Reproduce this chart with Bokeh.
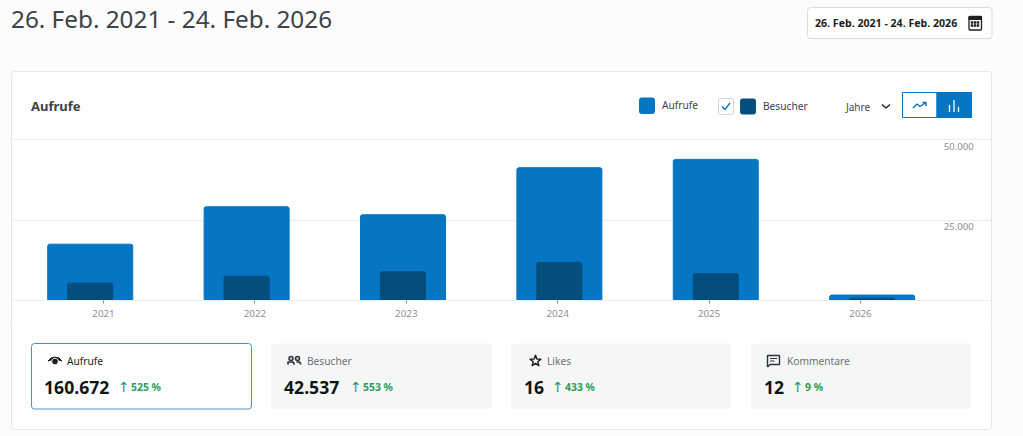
from bokeh.core.properties import value
from bokeh.embed import file_html
from bokeh.layouts import column, row
from bokeh.models import ColumnDataSource, FixedTicker, Grid, LabelSet, LinearAxis, Range1d, Spacer
from bokeh.plotting import figure
from bokeh.resources import INLINE

# chart values
years = [2021, 2022, 2023, 2024, 2025, 2026]
aufrufe = [17600, 29300, 26800, 41500, 44100, 1700]
besucher = [5400, 7600, 9000, 11900, 8400, 700]
y_ticks = [0, 25000, 50000]
y_tick_labels = ["0", "25.000", "50.000"]

date_range = "26. Feb. 2021 - 24. Feb. 2026"
chart_title = "Aufrufe"
metric_names = ["Aufrufe", "Besucher", "Likes", "Kommentare"]
metric_values = ["160.672", "42.537", "16", "12"]
metric_changes = ["525 %", "553 %", "433 %", "9 %"]

BLUE = "#0675c4"
DARK = "#044e7e"
PAGE = "#fcfcfc"
LINE = "#e6e6e6"
GREY = "#8c8f94"
FONT = "Noto Sans"


def panel(height, top):
    # decoration panel, coordinates are page pixels
    f = figure(width=1023, height=height, x_range=(0.5, 1023.5), y_range=(top + height + 0.5, top + 0.5),
               output_backend="svg", toolbar_location=None, x_axis_location=None, y_axis_location=None,
               min_border=0, outline_line_color=None, background_fill_color=PAGE, border_fill_color=PAGE)
    f.xgrid.visible = False
    f.ygrid.visible = False
    return f


def label(f, x, y, text, size, color="#1e1e1e", style="normal", align="left", font=FONT):
    f.text([x], [y - 0.5], text=[text], text_font=value(font), text_font_size=f"{size}px", text_color=color,
           text_font_style=style, text_align=align, text_baseline="middle")


# header
head = panel(140, 0)
label(head, 11, 19, date_range, 24.3, "#3c434a")
head.quad(left=[807.5], right=[992], top=[7.5], bottom=[38.5], fill_color="white", line_color="#dcdcde", border_radius=3)
label(head, 815, 23, date_range, 10.6, "#1e1e1e", "bold")
head.quad(left=[969], right=[981.5], top=[16.5], bottom=[30], fill_color="white", line_color="#1e1e1e", line_width=1.3, border_radius=1)
head.quad(left=[969], right=[981.5], top=[16.5], bottom=[19.5], fill_color="#1e1e1e", line_color="#1e1e1e")
head.scatter([972, 975, 978, 972, 975, 978], [22.5, 22.5, 22.5, 25.5, 25.5, 25.5], marker="square", size=1.6, color="#1e1e1e")

head.quad(left=[11.5], right=[991.5], top=[71.5], bottom=[160], fill_color="white", line_color=LINE, border_radius=3)
head.segment([12], [139.5], [991], [139.5], line_color="#eeeeee", line_width=1.5)
label(head, 31, 106, chart_title, 13, "#3c434a", "bold")

head.quad(left=[639], right=[655], top=[97.5], bottom=[114], fill_color=BLUE, line_color=None, border_radius=3)
label(head, 662, 105, metric_names[0], 10.2, "#3c434a")
head.quad(left=[718.5], right=[733.5], top=[98.5], bottom=[114.5], fill_color="white", line_color="#d5d5d5", border_radius=2)
head.line([722, 725, 730], [106.5, 109.5, 103], line_color=BLUE, line_width=1.3)
head.quad(left=[740], right=[756], top=[98.5], bottom=[114.5], fill_color=DARK, line_color=None, border_radius=3)
label(head, 763, 106, metric_names[1], 10.2, "#3c434a")
label(head, 846, 107, "Jahre", 10, "#3c434a")
head.line([882, 886, 890], [104.5, 108, 104.5], line_color="#1e1e1e", line_width=1.3)

head.quad(left=[902.5], right=[937], top=[92.5], bottom=[117.5], fill_color="white", line_color=BLUE)
head.quad(left=[937], right=[971.5], top=[92.5], bottom=[117.5], fill_color=BLUE, line_color=BLUE)
head.line([913, 917, 920, 926], [108, 104, 106.5, 102.5], line_color=BLUE, line_width=1.5)
head.line([922.5, 926, 926], [102.5, 102.5, 106], line_color=BLUE, line_width=1.5)
head.segment([949.5, 954, 958.5], [112, 112, 112], [949.5, 954, 958.5], [105, 100, 107], line_color="white", line_width=1.3)

# chart, the ticks sit on a slightly different spacing than the bars
chart = figure(width=979, height=180, x_range=Range1d(2020.503, 2026.763), y_range=Range1d(0, 50000),
               output_backend="svg", toolbar_location=None, x_axis_location=None, y_axis_location=None,
               min_border_left=0, min_border_right=0, min_border_top=0, min_border_bottom=20,
               outline_line_color=None, background_fill_color="white", border_fill_color="white")
chart.xgrid.visible = False
chart.ygrid.visible = False
chart.extra_x_ranges["ticks"] = Range1d(2020.399, 2026.865)
chart.add_layout(Grid(dimension=1, ticker=FixedTicker(ticks=y_ticks), grid_line_color="#eeeeee", grid_line_width=1.5))
chart.vbar(x=years, top=aufrufe, width=0.5435, color=BLUE, border_radius=(2, 2, 0, 0))
chart.vbar(x=years, top=besucher, width=0.288, color=DARK, border_radius=(2, 2, 0, 0))

xaxis = LinearAxis(x_range_name="ticks", ticker=FixedTicker(ticks=years), major_label_overrides={y: str(y) for y in years},
                   axis_line_color="#eeeeee", major_tick_line_color="#8c8f94", major_tick_out=3, major_tick_in=0,
                   minor_tick_line_color=None, major_label_text_color=GREY, major_label_text_font=FONT,
                   major_label_text_font_size="9.8px", major_label_standoff=6)
chart.add_layout(xaxis, "below")
# the value labels sit inside the frame, just below their grid lines
y_source = ColumnDataSource(dict(x=[2026.65] * 3, y=y_ticks, text=y_tick_labels))
chart.add_layout(LabelSet(x="x", y="y", text="text", source=y_source, text_font=value(FONT), text_font_size="9.6px",
                          text_color=GREY, text_align="right", text_baseline="top", y_offset=-2))

left = Spacer(width=12, height=180, styles={"background": PAGE, "border-right": f"1px solid {LINE}", "box-sizing": "border-box"})
right = Spacer(width=32, height=180, styles={"background": PAGE, "border-left": f"1px solid {LINE}", "box-sizing": "border-box"})

# footer with the four metric cards
foot = panel(116, 320)
foot.quad(left=[11.5], right=[991.5], top=[300], bottom=[429.5], fill_color="white", line_color=LINE, border_radius=3)
card_left = [31, 271, 511, 751]
card_right = [251.5, 492, 731, 971]
for i, name in enumerate(metric_names):
    active = i == 0
    foot.quad(left=[card_left[i] + (0.5 if active else 0)], right=[card_right[i]], top=[343.5], bottom=[409],
              fill_color="white" if active else "#f5f7f7", line_color="#4a90c8" if active else None, border_radius=3)

label(foot, 67, 361, metric_names[0], 10.2, "#1e1e1e")
label(foot, 307, 361, metric_names[1], 10.2, "#6c7075")
label(foot, 547, 361, metric_names[2], 10.2, "#6c7075")
label(foot, 787, 361, metric_names[3], 10.2, "#6c7075")

value_x = [44, 284, 524, 764]
arrow_x = [118, 350, 552, 792]
for i in range(4):
    label(foot, value_x[i], 388, metric_values[i], 17.6, "#101517", "bold")
    label(foot, arrow_x[i], 387, "\u2191", 14, "#2a9d54", font="DejaVu Sans")
    label(foot, arrow_x[i] + 13, 387.5, metric_changes[i], 10.4, "#2a9d54", "bold")

# eye icon
foot.patch([48, 51, 55, 59, 62, 59, 55, 51], [361, 358, 357, 358, 361, 360, 359.5, 360], color="#1e1e1e")
foot.scatter([55], [361.5], size=6.5, fill_color="#1e1e1e", line_color="white", line_width=0.8)
# people icon
foot.scatter([291, 297.5], [358.5, 358.5], size=4, fill_color="#cfd0d1", line_color="#2c3338", line_width=1.5)
foot.line([288, 288, 293, 294.5], [364.5, 362, 362, 364.5], line_color="#2c3338", line_width=1.7)
foot.line([296.5, 299, 300.5, 300.5], [362, 362, 363, 364.5], line_color="#2c3338", line_width=1.7)
# star icon
foot.scatter([535.5], [361], marker="star", size=12, fill_color=None, line_color="#1e1e1e", line_width=1.4)
# comment icon
foot.line([767.5, 767.5, 779.5, 779.5, 770, 767.5], [367, 355.5, 355.5, 364.5, 364.5, 367], line_color="#2c3338", line_width=1.4)
foot.segment([770, 770], [358.5, 361], [777, 774.5], [358.5, 361], line_color="#2c3338", line_width=1.2)

p = column(head, row(left, chart, right), foot)
open("out.html", "w").write(file_html(p, INLINE))
